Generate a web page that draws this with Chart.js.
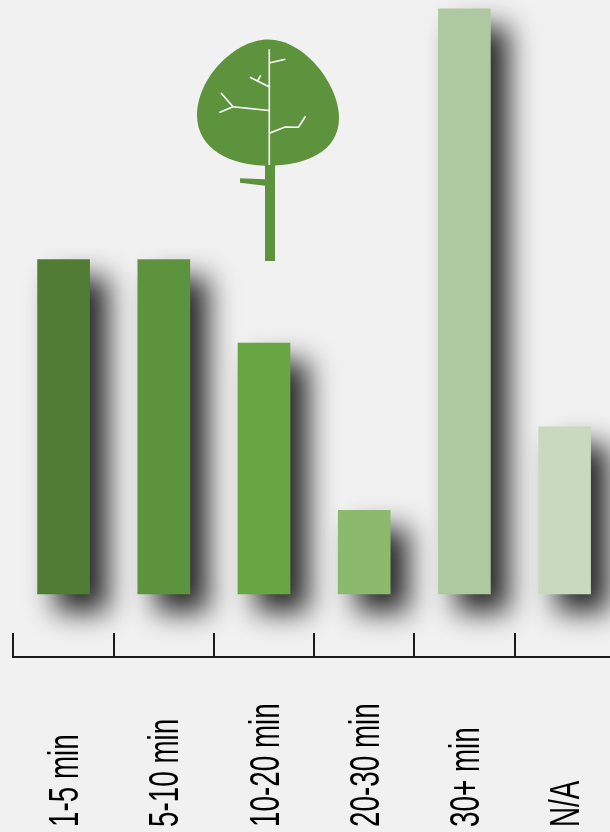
<!DOCTYPE html>
<html>
<head>
<meta charset="utf-8">
<title>Chart</title>
<script src="https://cdn.jsdelivr.net/npm/chart.js@4/dist/chart.umd.min.js"></script>
<style>
  html, body { margin: 0; padding: 0; width: 610px; height: 832px; overflow: hidden; background: #f1f1f1; }
  canvas { display: block; }
</style>
</head>
<body>
<canvas id="grafico" width="620" height="832"></canvas>
<script>
const categorias = ["1-5 min", "5-10 min", "10-20 min", "20-30 min", "30+ min", "N/A"];
const valores = [4, 4, 3, 1, 7, 2];
const cores = ["#507c33", "#5e933d", "#6aa544", "#8bba6f", "#aec9a0", "#c8d9bf"];

// sombra das barras
const sombra = {
  id: 'sombra',
  beforeDatasetDraw(chart) {
    const ctx = chart.ctx;
    ctx.save();
    ctx.shadowColor = 'rgba(40,40,40,1)';
    ctx.shadowBlur = 28;
    ctx.shadowOffsetX = 18;
    ctx.shadowOffsetY = 18;
  },
  afterDatasetDraw(chart) {
    chart.ctx.restore();
  }
};

// rotulos presos embaixo, o align do Chart.js nao deixa fazer isso
const rotulos = {
  id: 'rotulos',
  afterDraw(chart) {
    const ctx = chart.ctx;
    const x = chart.scales.x;
    ctx.save();
    ctx.fillStyle = '#000';
    ctx.font = '43px "Liberation Sans", Arial, sans-serif';
    ctx.textAlign = 'left';
    ctx.textBaseline = 'alphabetic';
    categorias.forEach((cat, i) => {
      ctx.save();
      ctx.translate(x.getPixelForTick(i) + 14.5, 827);
      ctx.rotate(-Math.PI / 2);
      ctx.scale(0.647, 1); // letra estreita
      ctx.fillText(cat, 0, 0);
      ctx.restore();
    });
    ctx.restore();
  }
};

// a arvore de enfeite
const arvore = {
  id: 'arvore',
  afterDraw(chart) {
    const ctx = chart.ctx;
    ctx.save();
    ctx.fillStyle = '#5e933d';
    ctx.beginPath();
    ctx.moveTo(268, 39.5);
    ctx.bezierCurveTo(235, 39.5, 197, 78, 197, 115);
    ctx.bezierCurveTo(197, 150, 232, 165.7, 268, 165.7);
    ctx.bezierCurveTo(305, 165.7, 339, 152, 339, 118);
    ctx.bezierCurveTo(339, 85, 305, 39.5, 268, 39.5);
    ctx.fill();
    ctx.fillRect(265, 165, 10, 96);
    ctx.beginPath();
    ctx.moveTo(240, 178.3);
    ctx.lineTo(265, 179.3);
    ctx.lineTo(265, 185.7);
    ctx.lineTo(240, 182.7);
    ctx.fill();

    const galhos = [
      [[269.3, 49.3], [269.3, 165]],
      [[270, 62.7], [285.3, 59.3]],
      [[269, 86.7], [250, 77.3]],
      [[257.7, 80.7], [260.7, 75.3]],
      [[269, 110.5], [233, 106.7], [221, 93]],
      [[233, 106.7], [219.3, 112.5]],
      [[270, 133], [285, 127], [298.5, 127.3], [305.5, 116.3]]
    ];
    ctx.strokeStyle = '#fff';
    ctx.lineWidth = 1.6;
    galhos.forEach(g => {
      ctx.beginPath();
      g.forEach((p, i) => i ? ctx.lineTo(p[0], p[1]) : ctx.moveTo(p[0], p[1]));
      ctx.stroke();
    });
    ctx.restore();
  }
};

new Chart(document.getElementById('grafico').getContext('2d'), {
  type: 'bar',
  data: {
    labels: categorias,
    datasets: [{ data: valores, backgroundColor: cores, borderWidth: 0, barThickness: 52 }]
  },
  options: {
    responsive: false,
    animation: false,
    layout: { padding: { left: 13.5, right: 5.3, top: 0, bottom: 0 } },
    plugins: { legend: { display: false }, tooltip: { enabled: false } },
    scales: {
      x: {
        ticks: { display: false },
        border: { color: '#1a1a1a', width: 2 },
        grid: { color: '#1a1a1a', lineWidth: 2, drawOnChartArea: false, tickLength: -24 },
        afterFit(scale) { scale.height = 175; }
      },
      y: { display: false, min: -0.754, max: 7.105 }
    }
  },
  plugins: [sombra, arvore, rotulos]
});
</script>
</body>
</html>
